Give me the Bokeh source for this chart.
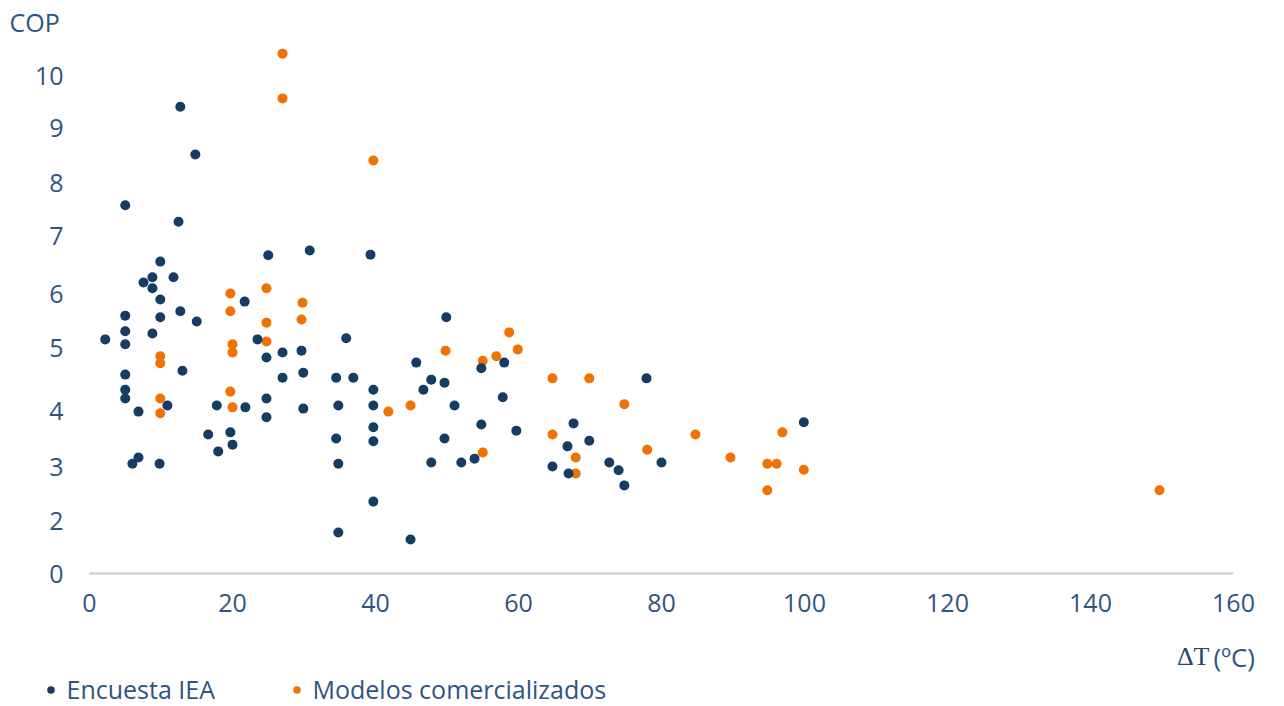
import numpy as np
from bokeh.plotting import figure
from bokeh.layouts import column
from bokeh.models import (Range1d, FixedTicker, CustomJSTickFormatter, Label,
                          Legend, LegendItem, Title)
from bokeh.embed import file_html
from bokeh.resources import INLINE

# Encuesta IEA: temperature lift ΔT (ºC) and COP
iea_dt = [2.2, 5.0, 5.0, 5.0, 5.0, 5.0, 5.0, 5.0, 6.0, 6.85, 6.85, 7.55, 8.8, 8.8, 8.8,
          9.9, 9.9, 9.9, 9.8, 10.9, 11.75, 12.45, 12.7, 12.7, 13.0, 14.8, 15.0, 16.6,
          17.8, 18.0, 19.7, 20.0, 21.7, 21.8, 23.5, 24.75, 24.75, 24.75, 25.0, 27.0,
          27.0, 29.65, 29.9, 29.9, 30.8, 34.5, 34.8, 34.5, 34.8, 34.8, 35.9, 36.9,
          39.3, 39.7, 39.7, 39.7, 39.7, 39.7, 44.9, 45.7, 46.7, 47.8, 47.8, 49.65,
          49.65, 49.9, 51.05, 52.0, 53.85, 54.8, 54.8, 58.0, 57.8, 59.7, 64.75, 66.85,
          67.0, 67.7, 69.9, 72.7, 74.0, 74.8, 77.9, 80.0, 99.9]
iea_cop = [5.15, 7.57, 5.59, 5.30, 5.06, 4.57, 4.33, 4.19, 3.05, 3.16, 3.98, 6.19, 6.28,
           6.09, 5.26, 6.55, 5.89, 5.56, 3.05, 4.08, 6.28, 7.26, 9.40, 5.67, 4.63, 8.51,
           5.48, 3.57, 4.08, 3.27, 3.61, 3.39, 5.85, 4.05, 5.15, 4.84, 4.19, 3.88, 6.66,
           4.92, 4.52, 4.95, 4.60, 4.03, 6.74, 4.52, 4.08, 3.50, 3.05, 1.55, 5.17, 4.52,
           6.67, 4.33, 4.08, 3.70, 3.45, 2.35, 1.28, 4.76, 4.33, 4.49, 3.07, 4.44, 3.50,
           5.56, 4.08, 3.07, 3.14, 4.67, 3.75, 4.76, 4.21, 3.64, 3.00, 3.36, 2.87, 3.77,
           3.46, 3.07, 2.93, 2.65, 4.51, 3.07, 3.79]

# Modelos comercializados: temperature lift ΔT (ºC) and COP
com_dt = [27.0, 27.0, 39.7, 19.7, 19.7, 24.75, 24.75, 24.75, 20.0, 20.0, 29.8, 29.65,
          9.9, 9.9, 9.9, 9.9, 19.7, 20.0, 41.8, 44.9, 49.8, 55.0, 56.9, 58.7, 59.9,
          64.75, 69.9, 74.8, 64.75, 55.0, 68.0, 68.0, 78.0, 84.75, 89.65, 96.9, 94.8,
          96.1, 94.8, 99.9, 149.65]
com_cop = [10.42, 9.56, 8.40, 6.00, 5.67, 6.09, 5.46, 5.11, 5.06, 4.92, 5.83, 5.52,
           4.86, 4.75, 4.19, 3.95, 4.30, 4.05, 3.98, 4.08, 4.95, 4.79, 4.86, 5.28, 4.97,
           4.51, 4.51, 4.10, 3.57, 3.25, 3.16, 2.87, 3.30, 3.57, 3.16, 3.61, 3.05, 3.05,
           2.56, 2.94, 2.56]

series_names = ["Encuesta IEA", "Modelos comercializados"]
x_ticks = [0, 20, 40, 60, 80, 100, 120, 140, 160]

# COP axis labels and where each one sits along the vertical axis (axis units)
cop_ticks = [0, 2, 3, 4, 5, 6, 7, 8, 9, 10]
tick_pos = [0.0, 1.06, 2.14, 3.26, 4.52, 5.60, 6.76, 7.82, 8.92, 9.96]

NAVY = "#143c64"
ORANGE = "#ef7203"
TEXT = "#2f557f"
FONT = "Open Sans"
W = 1284


def axis_pos(values):
    """Place COP values on the vertical axis, following its label spacing."""
    v = np.asarray(values, dtype=float)
    pos = np.interp(v, cop_ticks, tick_pos)
    slope = (tick_pos[-1] - tick_pos[-2]) / (cop_ticks[-1] - cop_ticks[-2])
    return np.where(v > cop_ticks[-1], tick_pos[-1] + (v - cop_ticks[-1]) * slope, pos)


# ---- scatter panel ----
p = figure(width=W, height=630, output_backend="svg", toolbar_location=None,
           x_range=Range1d(0, 160), y_range=Range1d(0, 10.66),
           min_border_left=89, min_border_right=51, min_border_top=40,
           min_border_bottom=57, outline_line_color=None,
           background_fill_color="white", border_fill_color="white")
p.grid.visible = False
p.frame_align = False

p.title = Title(text="COP", align="left", offset=-80, standoff=4,
                text_font=FONT, text_font_size="25px", text_font_style="normal",
                text_color=TEXT)

xa = p.xaxis[0]
xa.ticker = FixedTicker(ticks=x_ticks)
xa.axis_line_color = "#c8cbd6"
xa.axis_line_width = 2
xa.major_tick_line_color = None
xa.minor_tick_line_color = None
xa.major_label_standoff = 14
xa.major_label_text_font = FONT
xa.major_label_text_font_size = "25px"
xa.major_label_text_color = TEXT

ya = p.yaxis[0]
ya.ticker = FixedTicker(ticks=tick_pos)
ya.formatter = CustomJSTickFormatter(
    args=dict(pos=tick_pos, lab=[str(t) for t in cop_ticks]),
    code="""
    let best = 0
    for (let i = 0; i < pos.length; i++) {
        if (Math.abs(pos[i] - tick) < Math.abs(pos[best] - tick)) best = i
    }
    return lab[best]
    """)
ya.axis_line_color = None
ya.major_tick_line_color = None
ya.minor_tick_line_color = None
ya.major_label_standoff = 20
ya.major_label_text_font = FONT
ya.major_label_text_font_size = "25px"
ya.major_label_text_color = TEXT

p.scatter(com_dt, axis_pos(com_cop), size=10, fill_color=ORANGE, line_color=None)
p.scatter(iea_dt, axis_pos(iea_cop), size=10, fill_color=NAVY, line_color=None)

# ---- strip below: axis title and legend (coordinates in pixels) ----
foot = figure(width=W, height=76, output_backend="svg", toolbar_location=None,
              x_range=Range1d(0, W), y_range=Range1d(0, 76),
              x_axis_type=None, y_axis_type=None, min_border=0,
              outline_line_color=None, background_fill_color="white",
              border_fill_color="white")
foot.grid.visible = False
foot.frame_align = False

foot.add_layout(Label(x=1209, y=50, text="ΔT", text_font="Liberation Serif",
                      text_font_size="26px", text_color="#23476f",
                      text_align="right", text_baseline="middle"))
foot.add_layout(Label(x=1213, y=50, text="(ºC)", text_font=FONT,
                      text_font_size="26px", text_color=TEXT,
                      text_align="left", text_baseline="middle"))

# legend keys: style-only renderers, nothing plotted in this strip
key_iea = foot.scatter([np.nan], [np.nan], size=10, fill_color=NAVY, line_color=None)
key_com = foot.scatter([np.nan], [np.nan], size=10, fill_color=ORANGE, line_color=None)
for renderer, name, left in [(key_iea, series_names[0], 40.5), (key_com, series_names[1], 286.5)]:
    foot.add_layout(Legend(items=[LegendItem(label=name, renderers=[renderer], index=0)],
                           location=(left, 0), orientation="horizontal",
                           glyph_width=19, glyph_height=19, label_standoff=7,
                           label_height=19, padding=0, margin=0, spacing=0,
                           border_line_color=None, background_fill_alpha=0,
                           label_text_font=FONT, label_text_font_size="25px",
                           label_text_color=TEXT))

open("out.html", "w").write(file_html(column(p, foot, spacing=0), INLINE))
